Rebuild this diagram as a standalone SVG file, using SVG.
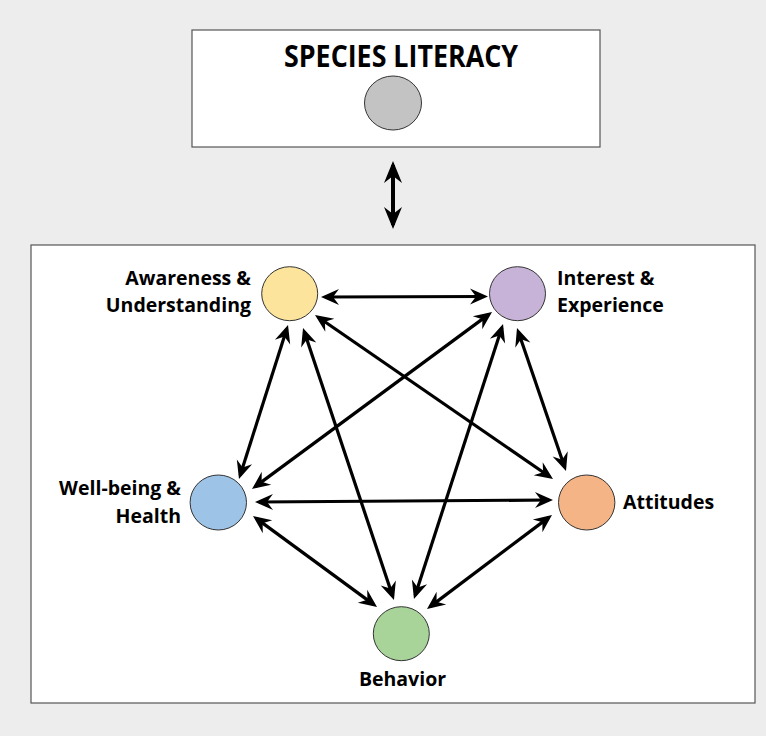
<svg xmlns="http://www.w3.org/2000/svg" width="766" height="736" viewBox="0 0 766 736">
<defs>
<style>
.bg{fill:#ECEDEC}
.box{fill:#FFFFFF;stroke:#555555;stroke-width:1.2}
.node{stroke:#333333;stroke-width:1}
.lbl{font-family:"Open Sans","Liberation Sans",sans-serif;font-weight:bold;font-size:19.5px;fill:#000}
.title{font-family:"Open Sans","Liberation Sans",sans-serif;font-weight:bold;font-size:31px;fill:#000}
.conn{stroke:#000;stroke-width:3.2;fill:none;marker-start:url(#ah);marker-end:url(#ah)}
.conn2{stroke:#000;stroke-width:4;fill:none;marker-start:url(#ah2);marker-end:url(#ah2)}
</style>
<marker id="ah" viewBox="-16 -10 22 20" refX="0" refY="0" markerWidth="22" markerHeight="20" markerUnits="userSpaceOnUse" orient="auto-start-reverse">
<path d="M4,0 L-14,-8 L-8,0 L-14,8 Z" fill="#000"/>
</marker>
<marker id="ah2" viewBox="-20 -11 26 22" refX="0" refY="0" markerWidth="26" markerHeight="22" markerUnits="userSpaceOnUse" orient="auto-start-reverse">
<path d="M4,0 L-18,-9 L-11,0 L-18,9 Z" fill="#000"/>
</marker>
</defs>
<rect class="bg" x="0" y="0" width="766" height="736"/>

<g id="species-literacy">
<rect class="box" x="192" y="30" width="408" height="117"/>
<text class="title" x="401" y="67" text-anchor="middle" textLength="234" lengthAdjust="spacingAndGlyphs">SPECIES LITERACY</text>
<ellipse class="node" cx="393" cy="103" rx="28.5" ry="27" fill="#C3C3C3"/>
</g>

<g id="components-frame">
<rect class="box" x="31" y="245" width="724" height="458"/>
</g>

<g id="connectors">
<line class="conn2" x1="393" y1="165" x2="393" y2="225"/>
<line class="conn" x1="325" y1="297" x2="484" y2="296.5"/>
<line class="conn" x1="286.8" y1="328.8" x2="240.2" y2="475.2"/>
<line class="conn" x1="304.3" y1="331.8" x2="392.7" y2="596.2"/>
<line class="conn" x1="318.3" y1="317.3" x2="549.7" y2="476.7"/>
<line class="conn" x1="488.8" y1="314.4" x2="255.2" y2="486.6"/>
<line class="conn" x1="501.8" y1="327.8" x2="415.2" y2="595.2"/>
<line class="conn" x1="518.3" y1="331.8" x2="564.7" y2="467.2"/>
<line class="conn" x1="259" y1="502" x2="549" y2="500"/>
<line class="conn" x1="256.2" y1="518.4" x2="373.8" y2="604.6"/>
<line class="conn" x1="548.8" y1="517.4" x2="430.2" y2="606.6"/>
</g>

<g id="awareness-understanding">
<ellipse class="node" cx="289.7" cy="293.7" rx="28" ry="27" fill="#FCE49C"/>
<text class="lbl" x="251" y="285" text-anchor="end">Awareness &amp;</text>
<text class="lbl" x="251" y="312" text-anchor="end">Understanding</text>
</g>

<g id="interest-experience">
<ellipse class="node" cx="517.5" cy="293.7" rx="28" ry="27" fill="#C8B3D8"/>
<text class="lbl" x="557" y="285">Interest &amp;</text>
<text class="lbl" x="557" y="312">Experience</text>
</g>

<g id="well-being-health">
<ellipse class="node" cx="218.3" cy="502.5" rx="28.2" ry="27.5" fill="#9DC3E6"/>
<text class="lbl" x="181" y="495" text-anchor="end">Well-being &amp;</text>
<text class="lbl" x="181" y="523" text-anchor="end">Health</text>
</g>

<g id="attitudes">
<ellipse class="node" cx="586.7" cy="502.5" rx="28.2" ry="27.5" fill="#F4B486"/>
<text class="lbl" x="623" y="509">Attitudes</text>
</g>

<g id="behavior">
<ellipse class="node" cx="401.3" cy="633.7" rx="28" ry="27" fill="#A8D49A"/>
<text class="lbl" x="402.5" y="686" text-anchor="middle">Behavior</text>
</g>
</svg>
